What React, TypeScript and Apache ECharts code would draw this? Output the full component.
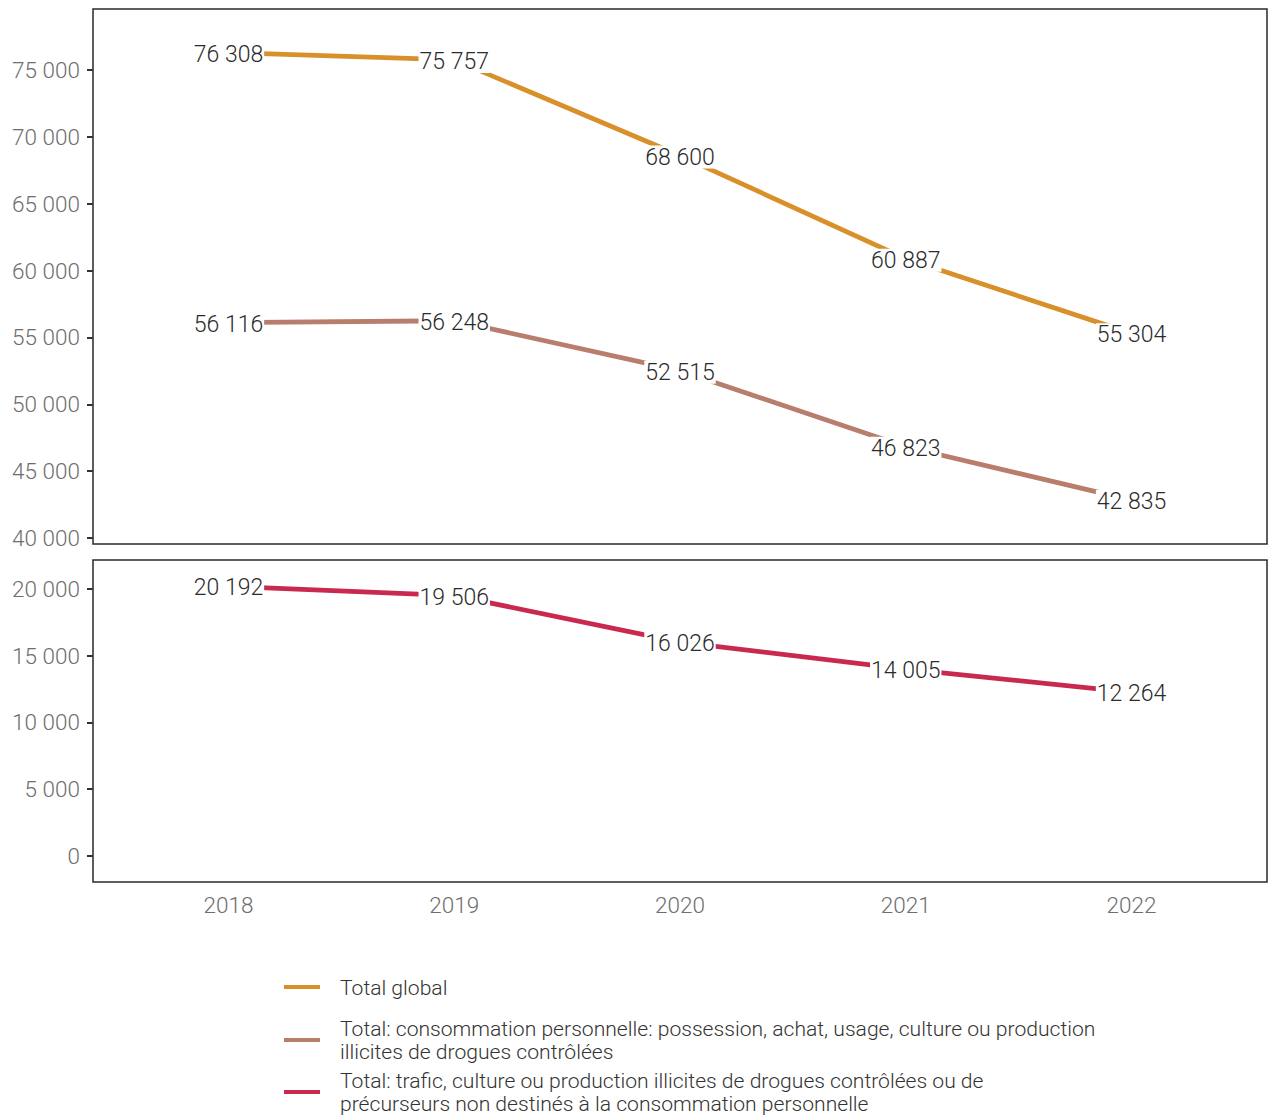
import React, { useEffect, useRef } from "react";
import * as echarts from "echarts";

const years = [2018, 2019, 2020, 2021, 2022];
const totalGlobal = [76308, 75757, 68600, 60887, 55304];
const consommation = [56116, 56248, 52515, 46823, 42835];
const trafic = [20192, 19506, 16026, 14005, 12264];
const topTicks = [40000, 45000, 50000, 55000, 60000, 65000, 70000, 75000];
const bottomTicks = [0, 5000, 10000, 15000, 20000];

const names = [
  "Total global",
  "Total: consommation personnelle: possession, achat, usage, culture ou production illicites de drogues contrôlées",
  "Total: trafic, culture ou production illicites de drogues contrôlées ou de précurseurs non destinés à la consommation personnelle",
];
const legendText: Record<string, string> = {
  [names[0]]: "Total global",
  [names[1]]: "Total: consommation personnelle: possession, achat, usage, culture ou production\nillicites de drogues contrôlées",
  [names[2]]: "Total: trafic, culture ou production illicites de drogues contrôlées ou de\nprécurseurs non destinés à la consommation personnelle",
};
const colors = ["#D8902A", "#B87D6C", "#C9294F"];

const FONT = "Roboto, 'Noto Sans', sans-serif";
const fmt = (v: number) => {
  const s = String(Math.round(v));
  return s.replace(/\B(?=(\d{3})+(?!\d))/g, " ");
};

export default function App() {
  const ref = useRef<HTMLDivElement>(null);
  useEffect(() => {
    if (!ref.current) return;
    const chart = echarts.init(ref.current, null, { renderer: "svg" });
    const axisLabelStyle = {
      color: "#6e6e6e",
      fontSize: 22.5,
      fontFamily: FONT,
      fontWeight: 300 as any,
    };
    const yCommon = (min: number, max: number, ticks: number[]) => ({
      type: "value",
      min,
      max,
      axisLine: { show: false },
      splitLine: { show: false },
      axisTick: {
        show: true,
        length: 6,
        lineStyle: { color: "#333", width: 2 },
        customValues: ticks,
      },
      axisLabel: {
        ...axisLabelStyle,
        margin: 13,
        customValues: ticks,
        formatter: (v: number) => fmt(v),
      },
    });
    const xCommon = (idx: number, showLabels: boolean) => ({
      type: "value",
      gridIndex: idx,
      min: 2017.4,
      max: 2022.6,
      axisLine: { show: false },
      axisTick: { show: false },
      splitLine: { show: false },
      axisLabel: {
        show: showLabels,
        ...axisLabelStyle,
        margin: 11,
        customValues: years,
        formatter: (v: number) => String(v),
      },
    });
    const label = {
      show: true,
      position: "inside",
      offset: [0, 1.5],
      color: "#2b2b2b",
      fontSize: 23,
      fontFamily: FONT,
      fontWeight: 300 as any,
      backgroundColor: "#fff",
      padding: [0, 1, 0, 1],
      formatter: (p: any) => fmt(p.value[1]),
    };
    const mk = (name: string, vals: number[], color: string, idx: number) => ({
      type: "line",
      name,
      xAxisIndex: idx,
      yAxisIndex: idx,
      data: years.map((y, i) => [y, vals[i]]),
      symbol: "circle",
      symbolSize: 1,
      clip: false,
      itemStyle: { color },
      lineStyle: { color, width: 4.8 },
      label,
      z: 2,
    });
    const legendBase = {
      orient: "vertical",
      left: 284,
      padding: 0,
      icon: "rect",
      itemWidth: 36,
      itemHeight: 4,
      textStyle: {
        color: "#333",
        fontSize: 21.1,
        fontFamily: FONT,
        fontWeight: 300 as any,
        lineHeight: 23,
        padding: [0, 0, 0, 15],
      },
      formatter: (n: string) => legendText[n],
      selectedMode: false,
    };
    chart.setOption({
      animation: false,
      backgroundColor: "#fff",
      grid: [
        { left: 93, right: 1, top: 9, height: 535, show: true, borderColor: "#2a2a2a", borderWidth: 1.5, backgroundColor: "transparent" },
        { left: 93, right: 1, top: 560, height: 322, show: true, borderColor: "#2a2a2a", borderWidth: 1.5, backgroundColor: "transparent" },
      ],
      xAxis: [xCommon(0, false), xCommon(1, true)],
      yAxis: [
        { ...yCommon(39551, 79562, topTicks), gridIndex: 0 },
        { ...yCommon(-1948, 22172, bottomTicks), gridIndex: 1 },
      ],
      legend: [
        { ...legendBase, data: [names[0]], top: 975.5 },
        { ...legendBase, data: [names[1]], top: 1017 },
        { ...legendBase, data: [names[2]], top: 1069 },
      ],
      series: [
        mk(names[0], totalGlobal, colors[0], 0),
        mk(names[1], consommation, colors[1], 0),
        mk(names[2], trafic, colors[2], 1),
      ],
    });
    return () => chart.dispose();
  }, []);
  return <div ref={ref} style={{ width: 1268, height: 1117, position: "absolute", left: 0, top: 0 }} />;
}
